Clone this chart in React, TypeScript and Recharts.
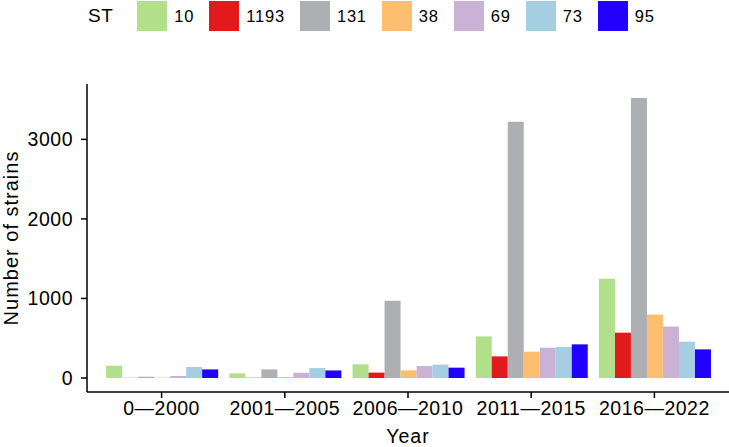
import { BarChart, Bar, XAxis, YAxis, Legend } from 'recharts'

const years = ['0—2000', '2001—2005', '2006—2010', '2011—2015', '2016—2022']
const stTypes = ['10', '1193', '131', '38', '69', '73', '95']
const st10 = [154, 58, 172, 523, 1247]
const st1193 = [2, 2, 68, 272, 570]
const st131 = [16, 108, 971, 3220, 3520]
const st38 = [5, 12, 96, 331, 799]
const st69 = [25, 66, 150, 381, 649]
const st73 = [138, 125, 168, 389, 457]
const st95 = [108, 95, 130, 423, 360]
const yTicks = [0, 1000, 2000, 3000]

const colors = ['#B2DF8A', '#E31A1C', '#AEAFB3', '#FDBF6F', '#CAB2D6', '#A6CEE3', '#2200FF']
const series = [st10, st1193, st131, st38, st69, st73, st95]

const data = years.map((year, i) => {
  const row: Record<string, string | number> = { year }
  stTypes.forEach((st, j) => {
    row['st' + st] = series[j][i]
  })
  return row
})

function LegendBox() {
  return (
    <div style={{ display: 'flex', alignItems: 'center', height: 32, paddingLeft: 88, fontFamily: 'Liberation Sans, Arial, sans-serif' }}>
      <span style={{ fontSize: 19, letterSpacing: 0.5, marginRight: 24, color: '#000' }}>ST</span>
      {stTypes.map((st, i) => (
        <div key={st} style={{ display: 'flex', alignItems: 'center', marginRight: 15 }}>
          <div style={{ width: 30, height: 30, background: colors[i] }} />
          <span style={{ fontSize: 16.5, letterSpacing: 0.8, marginLeft: 7, color: '#000' }}>{st}</span>
        </div>
      ))}
    </div>
  )
}

function YTitle(props: any) {
  const vb = props.viewBox
  const x = vb.x + 18
  const y = vb.y + vb.height / 2
  return (
    <text x={x} y={y} transform={`rotate(-90 ${x} ${y})`} textAnchor="middle" fontSize={20} letterSpacing={1} fill="#000">
      Number of strains
    </text>
  )
}

export default function App() {
  return (
    <div style={{ position: 'absolute', left: 0, top: 0, fontFamily: 'Liberation Sans, Arial, sans-serif', background: '#fff' }}>
      <BarChart width={729} height={447} data={data} margin={{ top: 52, right: 0, bottom: 0, left: 0 }} barCategoryGap="5%" barGap={0}>
        <Legend verticalAlign="top" align="left" content={() => <LegendBox />} wrapperStyle={{ left: 0, top: 0, width: 729 }} />
        <XAxis
          dataKey="year"
          height={55}
          padding={{ left: 13, right: 13 }}
          axisLine={{ stroke: '#000', strokeWidth: 1.5 }}
          tickLine={{ stroke: '#000', strokeWidth: 1.5 }}
          tickSize={6}
          tickMargin={3}
          tick={{ fontSize: 19.5, fill: '#000', letterSpacing: 0.5 }}
          label={{ value: 'Year', position: 'insideBottom', offset: 4, fontSize: 19.5, fill: '#000', letterSpacing: 1 }}
        />
        <YAxis
          width={87}
          type="number"
          domain={[-176, 3696]}
          ticks={yTicks}
          allowDataOverflow
          axisLine={{ stroke: '#000', strokeWidth: 1.5 }}
          tickLine={{ stroke: '#000', strokeWidth: 1.5 }}
          tickSize={6}
          tickMargin={8}
          tick={{ fontSize: 19.5, fill: '#000', letterSpacing: 0.5 }}
          label={<YTitle />}
        />
        {stTypes.map((st, i) => (
          <Bar key={st} dataKey={'st' + st} name={st} fill={colors[i]} isAnimationActive={false} />
        ))}
      </BarChart>
    </div>
  )
}
